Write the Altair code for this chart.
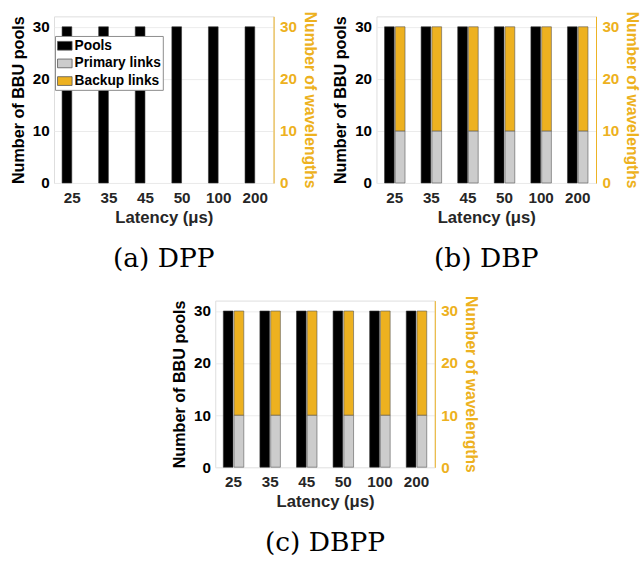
import altair as alt
import pandas as pd

latency = ["25", "35", "45", "50", "100", "200"]

pools_dpp = [30, 30, 30, 30, 30, 30]
primary_dpp = [0, 0, 0, 0, 0, 0]
backup_dpp = [0, 0, 0, 0, 0, 0]

pools_dbp = [30, 30, 30, 30, 30, 30]
primary_dbp = [10, 10, 10, 10, 10, 10]
backup_dbp = [20, 20, 20, 20, 20, 20]

pools_dbpp = [30, 30, 30, 30, 30, 30]
primary_dbpp = [10, 10, 10, 10, 10, 10]
backup_dbpp = [20, 20, 20, 20, 20, 20]

series = ["Pools", "Primary links", "Backup links"]
colors = ["#000000", "#CCCCCC", "#EDB120"]
captions = ["(a) DPP", "(b) DBP", "(c) DBPP"]

ORANGE = "#EDB120"
SANS = "Liberation Sans"
W, H = 224, 170


def panel(pools, primary, backup, caption, show_legend):
    df_p = pd.DataFrame({"lat": latency, "value": pools,
                         "series": ["Pools"] * len(latency), "grp": ["P"] * len(latency)})
    df_l = pd.DataFrame({"lat": latency + latency, "value": primary + backup,
                         "series": ["Primary links"] * len(latency) + ["Backup links"] * len(latency),
                         "ord": [0] * len(latency) + [1] * len(latency),
                         "grp": ["L"] * (2 * len(latency))})

    x = alt.X("lat:N", sort=latency,
              scale=alt.Scale(paddingInner=0.44, paddingOuter=0.22),
              axis=alt.Axis(title="Latency (μs)", labelAngle=0, ticks=False, domain=False,
                            labelPadding=8, titlePadding=4, labelColor="#262626",
                            titleColor="#262626", labelFontSize=15.5, titleFontSize=17,
                            labelFont=SANS, titleFont=SANS, labelFontWeight="bold",
                            titleFontWeight="bold"))
    xo = alt.XOffset("grp:N", sort=["P", "L"],
                     scale=alt.Scale(domain=["P", "L"], paddingInner=0.1, paddingOuter=0))
    if show_legend:
        leg = alt.Legend(orient="none", legendX=1, legendY=20, title=None,
                         symbolType="M-1,-0.6H1V0.6H-1Z", symbolSize=220,
                         symbolStrokeColor="#555555", symbolStrokeWidth=0.8,
                         labelFont=SANS, labelFontSize=14, labelFontWeight="bold",
                         labelColor="black", labelOffset=2, strokeColor="#8a8a8a",
                         fillColor="white", padding=2, rowPadding=3, symbolOffset=0)
        color = alt.Color("series:N", scale=alt.Scale(domain=series, range=colors), legend=leg)
    else:
        color = alt.Color("series:N", scale=alt.Scale(domain=series, range=colors), legend=None)

    left = alt.Chart(df_p).mark_bar(stroke="#333333", strokeWidth=0.6).encode(
        x=x, xOffset=xo,
        y=alt.Y("value:Q", scale=alt.Scale(domain=[0, 32], nice=False),
                axis=alt.Axis(orient="left", values=[0, 10, 20, 30], title="Number of BBU pools",
                              domain=False, ticks=False, labelPadding=5, titlePadding=6,
                              labelColor="black", titleColor="black", grid=True,
                              gridColor="#EBEBEB", labelFontSize=15.5, titleFontSize=16.5,
                              labelFont=SANS, titleFont=SANS, labelFontWeight="bold",
                              titleFontWeight="bold")),
        color=color,
    )
    right = alt.Chart(df_l).transform_filter("datum.value > 0").mark_bar(
        stroke="#555555", strokeWidth=0.6).encode(
        x=x, xOffset=xo,
        y=alt.Y("value:Q", stack="zero", scale=alt.Scale(domain=[0, 32], nice=False),
                axis=alt.Axis(orient="right", values=[0, 10, 20, 30], title="Number of wavelengths",
                              domain=True, domainColor=ORANGE, ticks=False, labelPadding=6,
                              titlePadding=5, labelColor=ORANGE, titleColor=ORANGE, grid=False,
                              labelFontSize=15.5, titleFontSize=16,
                              labelFont=SANS, titleFont=SANS, labelFontWeight="bold",
                              titleFontWeight="bold")),
        color=color,
        order=alt.Order("ord:Q", sort="ascending"),
    )
    return alt.layer(left, right).resolve_scale(y="independent").properties(
        width=W, height=H,
        title=alt.TitleParams(caption, orient="bottom", font="DejaVu Serif", fontSize=27,
                              fontWeight="normal", color="black", offset=21, frame="group"),
    )


a = panel(pools_dpp, primary_dpp, backup_dpp, captions[0], True)
b = panel(pools_dbp, primary_dbp, backup_dbp, captions[1], False)
c = panel(pools_dbpp, primary_dbpp, backup_dbpp, captions[2], False)

top = alt.hconcat(a, b, spacing=15).resolve_scale(color="independent").resolve_legend(color="independent")
chart = alt.vconcat(top, c, spacing=23, center=True).resolve_scale(
    color="independent").resolve_legend(color="independent").properties(
    padding={"left": 10, "top": 5, "right": 0, "bottom": 0}
).configure_view(stroke="#A6A6A6", strokeWidth=1).configure(background="white")

chart.save("out.html", embed_options={"renderer": "svg", "actions": False})
